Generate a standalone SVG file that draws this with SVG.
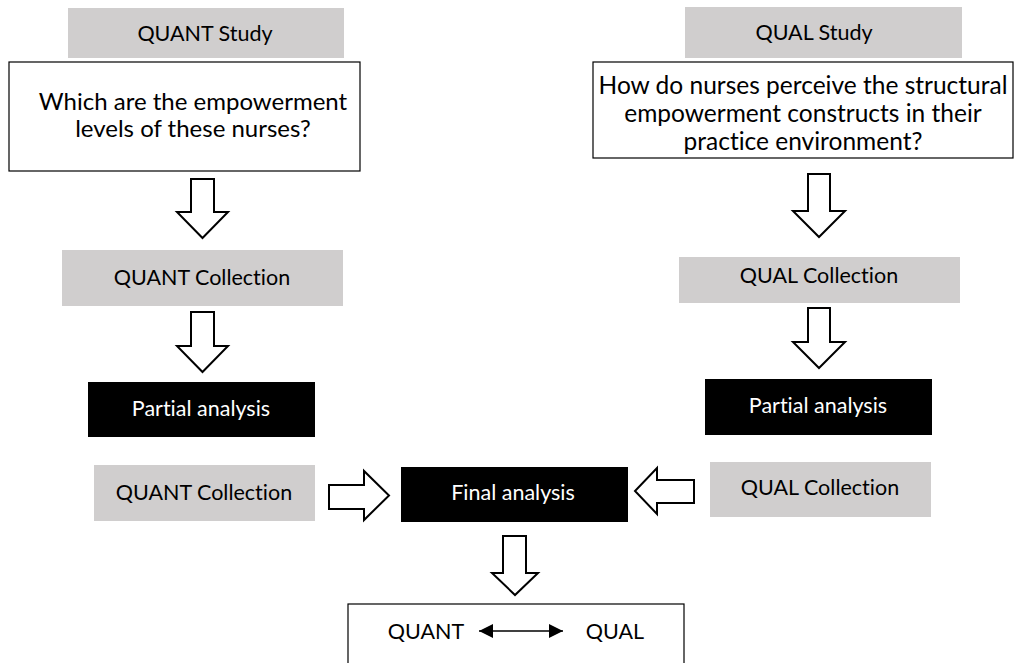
<svg xmlns="http://www.w3.org/2000/svg" width="1015" height="663" viewBox="0 0 1015 663">
  <style>
    .grey { fill: #d0cece; }
    .dark { fill: #000000; }
    .frame { fill: #ffffff; stroke: #000000; stroke-width: 1.2; }
    .block { fill: #ffffff; stroke: #000000; stroke-width: 2; stroke-linejoin: miter; }
    text { font-family: Lato, "Open Sans", sans-serif; text-anchor: middle; font-variant-ligatures: none; }
    .lbl { font-size: 21.5px; fill: #000000; }
    .inv { font-size: 21.5px; fill: #ffffff; }
    .q { font-size: 24px; fill: #000000; }
    .q2 { font-size: 24.5px; fill: #000000; }
  </style>
  <defs>
    <marker id="tip" viewBox="0 0 10 10" refX="10" refY="5" markerWidth="17" markerHeight="14" markerUnits="userSpaceOnUse" orient="auto-start-reverse">
      <path d="M0,0 L10,5 L0,10 Z" fill="#000000"/>
    </marker>
  </defs>

  <!-- quantitative strand -->
  <g id="quant-study">
    <rect class="grey" x="68" y="8" width="276" height="50"/>
    <text class="lbl" x="205" y="41">QUANT Study</text>
  </g>
  <g id="quant-question">
    <rect class="frame" x="9" y="62" width="351" height="109"/>
    <text class="q" x="193" y="110">Which are the empowerment</text>
    <text class="q" x="193" y="137">levels of these nurses?</text>
  </g>
  <g id="quant-collection">
    <rect class="grey" x="62" y="250" width="281" height="56"/>
    <text class="lbl" x="202" y="285">QUANT Collection</text>
  </g>
  <g id="quant-partial">
    <rect class="dark" x="88" y="382" width="227" height="55"/>
    <text class="inv" x="201" y="416">Partial analysis</text>
  </g>
  <g id="quant-collection-2">
    <rect class="grey" x="94" y="465" width="221" height="56"/>
    <text class="lbl" x="204" y="500">QUANT Collection</text>
  </g>

  <!-- qualitative strand -->
  <g id="qual-study">
    <rect class="grey" x="685" y="7" width="277" height="51"/>
    <text class="lbl" x="814" y="40">QUAL Study</text>
  </g>
  <g id="qual-question">
    <rect class="frame" x="593" y="62" width="420" height="96"/>
    <text class="q2" x="803" y="94">How do nurses perceive the structural</text>
    <text class="q2" x="803" y="122">empowerment constructs in their</text>
    <text class="q2" x="803" y="150">practice environment?</text>
  </g>
  <g id="qual-collection">
    <rect class="grey" x="679" y="257" width="281" height="46"/>
    <text class="lbl" x="819" y="283">QUAL Collection</text>
  </g>
  <g id="qual-partial">
    <rect class="dark" x="705" y="379" width="227" height="56"/>
    <text class="inv" x="818" y="413">Partial analysis</text>
  </g>
  <g id="qual-collection-2">
    <rect class="grey" x="710" y="462" width="221" height="55"/>
    <text class="lbl" x="820" y="495">QUAL Collection</text>
  </g>

  <!-- merge -->
  <g id="final-analysis">
    <rect class="dark" x="401" y="467" width="227" height="55"/>
    <text class="inv" x="513" y="500">Final analysis</text>
  </g>
  <g id="result">
    <rect class="frame" x="348" y="604" width="336" height="80"/>
    <text class="lbl" x="426" y="639">QUANT</text>
    <text class="lbl" x="615" y="639">QUAL</text>
    <line x1="479" y1="631" x2="563" y2="631" stroke="#000000" stroke-width="1.5" marker-start="url(#tip)" marker-end="url(#tip)"/>
  </g>

  <!-- block arrows -->
  <g id="connectors">
    <path class="block" d="M191,179 H214 V212 H228 L202.5,238 L177,212 H191 Z"/>
    <path class="block" d="M191,312 H214 V346 H228 L202.5,372 L177,346 H191 Z"/>
    <path class="block" d="M808,174 H830 V211 H845 L819,237 L793,211 H808 Z"/>
    <path class="block" d="M808,308 H830 V342 H845 L819,368 L793,342 H808 Z"/>
    <path class="block" d="M329,485 H364 V471 L389,495.5 L364,520 V509 H329 Z"/>
    <path class="block" d="M694,480 H657 V468 L635,491 L657,514 V503 H694 Z"/>
    <path class="block" d="M503,536 H526 V573 H538 L515,595 L492,573 H503 Z"/>
  </g>
</svg>
